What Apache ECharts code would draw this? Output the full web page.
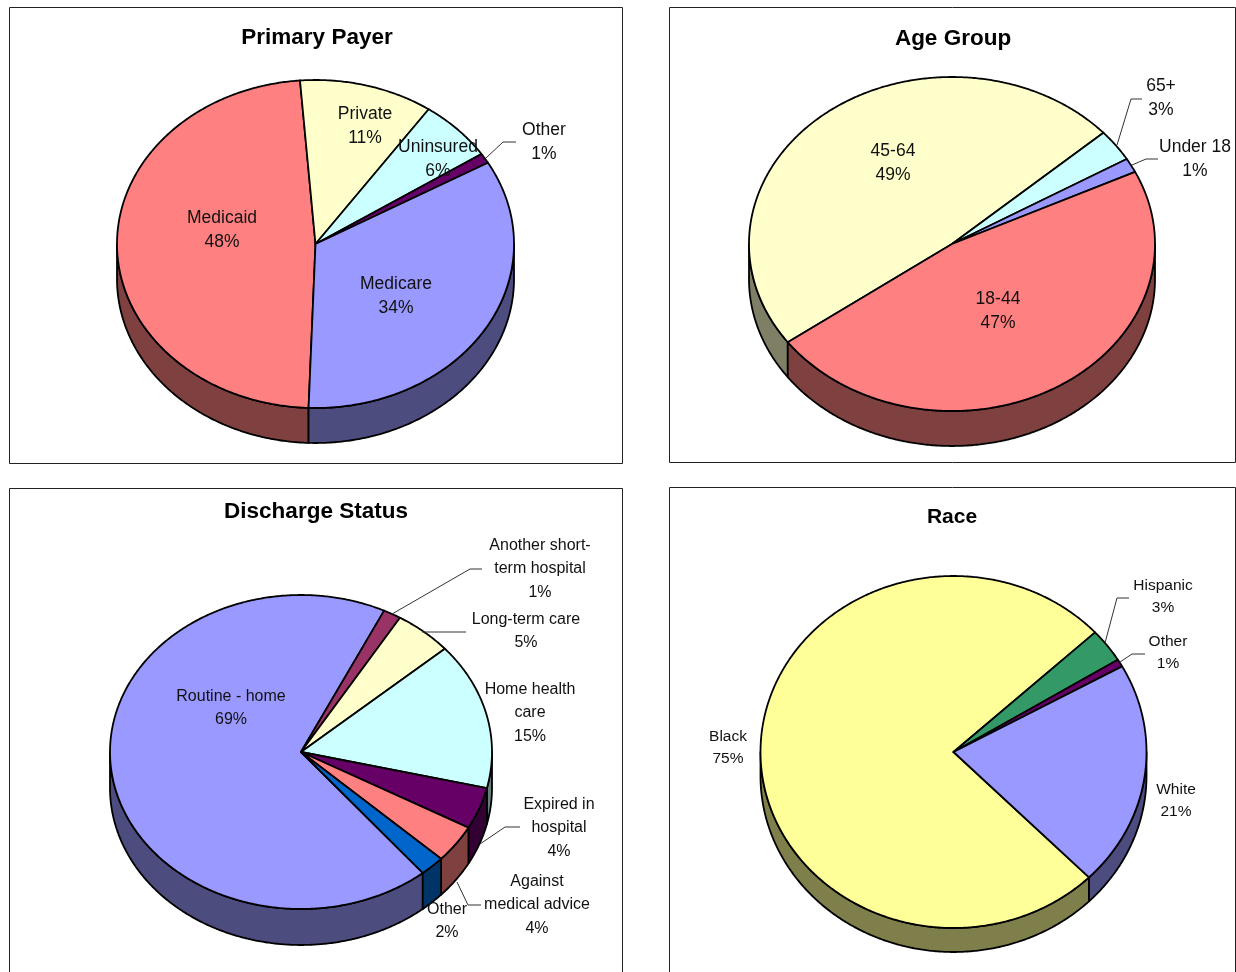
<!DOCTYPE html>
<html>
<head>
<meta charset="utf-8">
<title>Hospitalizations</title>
<style>
html, body { margin: 0; padding: 0; background: #fff; }
#main { width: 1236px; height: 972px; }
</style>
<script src="https://cdn.jsdelivr.net/npm/echarts@6/dist/echarts.min.js"></script>
</head>
<body>
<div id="main"></div>
<script>
var payerNames = ['Medicaid', 'Private', 'Uninsured', 'Other', 'Medicare'];
var payerValues = [48.2, 10.9, 6.1, 1.0, 33.8];
var payerPercents = ['48%', '11%', '6%', '1%', '34%'];
var payerColors = ['#FF8080', '#FFFFCC', '#CCFFFF', '#660066', '#9999FF'];

var ageNames = ['45-64', '65+', 'Under 18', '18-44'];
var ageValues = [48.4, 3.1, 1.4, 47.1];
var agePercents = ['49%', '3%', '1%', '47%'];
var ageColors = ['#FFFFCC', '#CCFFFF', '#9999FF', '#FF8080'];

var dischargeNames = ['Routine - home', 'Another short-\nterm hospital', 'Long-term care', 'Home health\ncare', 'Expired in\nhospital', 'Against\nmedical advice', 'Other'];
var dischargeValues = [68.1, 1.5, 4.9, 15.1, 4.3, 3.9, 2.1];
var dischargePercents = ['69%', '1%', '5%', '15%', '4%', '4%', '2%'];
var dischargeColors = ['#9999FF', '#993366', '#FFFFCC', '#CCFFFF', '#660066', '#FF8080', '#0066CC'];

var raceNames = ['Black', 'Hispanic', 'Other', 'White'];
var raceValues = [75.5, 3.1, 0.7, 20.7];
var racePercents = ['75%', '3%', '1%', '21%'];
var raceColors = ['#FFFF99', '#339966', '#660066', '#9999FF'];

var font = '"Liberation Sans", Arial, sans-serif';

var pies = [{
    title: 'Primary Payer', titleX: 317, titleY: 39, titleSize: 22.5,
    box: [9, 7, 613, 456],
    cx: 315.5, cy: 244, rx: 198.5, ry: 164, depth: 35, start: 182,
    names: payerNames, values: payerValues, percents: payerPercents, colors: payerColors,
    fontSize: 17.5, lineHeight: 24,
    labels: [[222, 230], [365, 126], [438, 159], [544, 142], [396, 296]],
    leaders: [[[486, 158], [503, 142], [516, 142]]]
}, {
    title: 'Age Group', titleX: 953, titleY: 40, titleSize: 22.5,
    box: [669, 7, 566, 455],
    cx: 952, cy: 244, rx: 203, ry: 167, depth: 35, start: 234,
    names: ageNames, values: ageValues, percents: agePercents, colors: ageColors,
    fontSize: 17.5, lineHeight: 24,
    labels: [[893, 163], [1161, 98], [1195, 159], [998, 311]],
    leaders: [[[1117, 145], [1131, 99], [1142, 99]], [[1132, 165], [1146, 159], [1158, 159]]]
}, {
    title: 'Discharge Status', titleX: 316, titleY: 513, titleSize: 22.5,
    box: [9, 488, 613, 500],
    cx: 301, cy: 752, rx: 191, ry: 157, depth: 36, start: 140.4,
    names: dischargeNames, values: dischargeValues, percents: dischargePercents, colors: dischargeColors,
    fontSize: 16, lineHeight: 23.5,
    labels: [[231, 708], [540, 569], [526, 631], [530, 713], [559, 828], [537, 905], [447, 921]],
    leaders: [
        [[392, 614], [470, 569], [482, 569]],
        [[422, 632], [466, 632]],
        [[480, 844], [505, 827], [520, 827]],
        [[457, 882], [468, 905], [481, 905]]
    ]
}, {
    title: 'Race', titleX: 952, titleY: 518, titleSize: 21,
    box: [669, 487, 566, 500],
    cx: 953.5, cy: 752, rx: 193, ry: 176, depth: 24, start: 135.4,
    names: raceNames, values: raceValues, percents: racePercents, colors: raceColors,
    fontSize: 15.5, lineHeight: 22,
    labels: [[728, 748], [1163, 597], [1168, 653], [1176, 801]],
    leaders: [[[1105, 643], [1117, 598], [1129, 598]], [[1120, 662], [1132, 654], [1145, 654]]]
}];

// angle is clockwise from 12 o'clock, squashed onto the tilted ellipse
function ellipsePoint(p, deg, dy) {
    var a = deg * Math.PI / 180;
    return [p.cx + p.rx * Math.sin(a), p.cy - p.ry * Math.cos(a) + (dy || 0)];
}

function arcPoints(p, from, to, dy) {
    var pts = [];
    var n = Math.max(1, Math.ceil((to - from) * 2));
    for (var i = 0; i <= n; i++) {
        pts.push(ellipsePoint(p, from + (to - from) * i / n, dy));
    }
    return pts;
}

function darken(hex) {
    var n = parseInt(hex.slice(1), 16);
    return 'rgb(' + ((n >> 16) >> 1) + ',' + (((n >> 8) & 255) >> 1) + ',' + ((n & 255) >> 1) + ')';
}

// rows are [value, sum of the values before it]
function pieRows(values) {
    var sum = 0;
    return values.map(function (v) {
        var row = [v, sum];
        sum += v;
        return row;
    });
}

function sliceRange(p, api) {
    var total = p.values.reduce(function (a, b) { return a + b; }, 0);
    var from = p.start + api.value(1) / total * 360;
    return [from, from + api.value(0) / total * 360];
}

function wallSeries(p) {
    return {
        type: 'custom',
        coordinateSystem: 'none',
        silent: true,
        z: 3,
        data: pieRows(p.values),
        renderItem: function (params, api) {
            var r = sliceRange(p, api);
            var children = [];
            // only the front half of the rim (90..270 deg) is visible
            [0, 360].forEach(function (turn) {
                var from = Math.max(r[0], 90 + turn);
                var to = Math.min(r[1], 270 + turn);
                if (to <= from) return;
                var top = arcPoints(p, from, to, 0);
                var bottom = arcPoints(p, from, to, p.depth).reverse();
                children.push({
                    type: 'polygon',
                    shape: { points: top.concat(bottom) },
                    style: { fill: darken(p.colors[params.dataIndex]), stroke: '#000', lineWidth: 1.8, lineJoin: 'round' }
                });
            });
            return { type: 'group', children: children };
        }
    };
}

function topSeries(p) {
    return {
        type: 'custom',
        coordinateSystem: 'none',
        silent: true,
        z: 4,
        data: pieRows(p.values),
        renderItem: function (params, api) {
            var r = sliceRange(p, api);
            var pts = [[p.cx, p.cy]].concat(arcPoints(p, r[0], r[1], 0));
            return {
                type: 'polygon',
                shape: { points: pts },
                style: { fill: p.colors[params.dataIndex], stroke: '#000', lineWidth: 1.8, lineJoin: 'round' }
            };
        }
    };
}

function pieGraphics(p) {
    var out = [{
        type: 'rect',
        z: 1,
        shape: { x: p.box[0] + 0.5, y: p.box[1] + 0.5, width: p.box[2], height: p.box[3] },
        style: { fill: '#fff', stroke: '#222', lineWidth: 1 }
    }];
    p.leaders.forEach(function (pts) {
        out.push({
            type: 'polyline',
            z: 5,
            shape: { points: pts },
            style: { fill: null, stroke: '#333', lineWidth: 1 }
        });
    });
    p.names.forEach(function (name, i) {
        out.push({
            type: 'text',
            z: 6,
            x: p.labels[i][0],
            y: p.labels[i][1],
            style: {
                text: name + '\n' + p.percents[i],
                fontFamily: font,
                fontSize: p.fontSize,
                lineHeight: p.lineHeight,
                fill: '#111',
                align: 'center',
                verticalAlign: 'middle'
            }
        });
    });
    return out;
}

var series = [];
var elements = [];
pies.forEach(function (p) {
    series.push(wallSeries(p), topSeries(p));
    elements = elements.concat(pieGraphics(p));
});

var chart = echarts.init(document.getElementById('main'));
chart.setOption({
    animation: false,
    backgroundColor: '#fff',
    title: pies.map(function (p) {
        return {
            text: p.title,
            left: p.titleX,
            top: p.titleY - p.titleSize / 2 - 1,
            padding: 0,
            textAlign: 'center',
            textStyle: { fontFamily: font, fontSize: p.titleSize, fontWeight: 'bold', color: '#000' }
        };
    }),
    graphic: { elements: elements },
    series: series
});
</script>
</body>
</html>
